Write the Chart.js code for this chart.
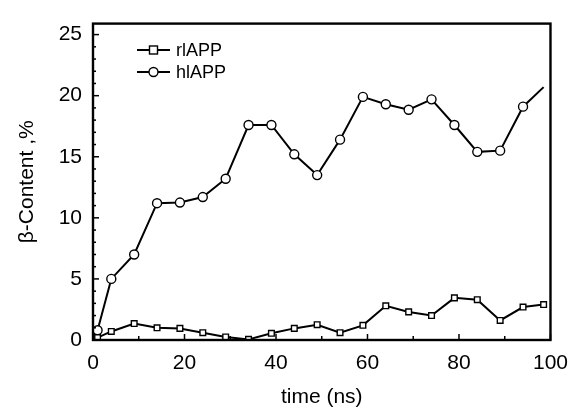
<!DOCTYPE html>
<html>
<head>
<meta charset="utf-8">
<script src="https://cdn.jsdelivr.net/npm/chart.js@4"></script>
<style>
  html, body { margin: 0; padding: 0; background: #fff; }
  #wrap { width: 579px; height: 408px; }
</style>
</head>
<body>
<div id="wrap"><canvas id="chart" width="579" height="408"></canvas></div>
<script>
// Data
const time = [1, 4, 9, 14, 19, 24, 29, 34, 39, 44, 49, 54, 59, 64, 69, 74, 79, 84, 89, 94, 98.5];
const rlAPP = [0.2, 0.7, 1.35, 1.0, 0.95, 0.6, 0.25, 0.05, 0.55, 0.95, 1.25, 0.6, 1.2, 2.8, 2.3, 2.0, 3.45, 3.3, 1.6, 2.7, 2.9];
const hlAPP = [0.8, 5.0, 7.0, 11.2, 11.25, 11.7, 13.2, 17.6, 17.6, 15.2, 13.5, 16.4, 19.9, 19.3, 18.85, 19.7, 17.6, 15.4, 15.5, 19.1, 20.7];
const xTicks = [0, 20, 40, 60, 80, 100];
const yTicks = [0, 5, 10, 15, 20, 25];

const font = 'Liberation Sans, Arial, sans-serif';

// Frame, inward ticks and the in-plot legend
const decor = {
    id: 'decor',
    afterDraw(chart) {
        const c = chart.ctx;
        const a = chart.chartArea;
        const xs = chart.scales.x, ys = chart.scales.y;
        c.save();
        c.strokeStyle = '#000';
        c.lineWidth = 1.5;
        for (let v = 0; v <= 100; v += 10) {
            const px = xs.getPixelForValue(v);
            const len = v % 20 === 0 ? 6 : 4;
            c.beginPath(); c.moveTo(px, a.bottom); c.lineTo(px, a.bottom - len); c.stroke();
        }
        for (let v = 0; v <= 25; v += 1) {
            const py = ys.getPixelForValue(v);
            const len = v % 5 === 0 ? 6 : 3;
            c.beginPath(); c.moveTo(a.left, py); c.lineTo(a.left + len, py); c.stroke();
        }
        c.lineWidth = 2.4;
        c.strokeRect(a.left, a.top, a.right - a.left, a.bottom - a.top);

        // legend
        chart.data.datasets.forEach((ds, i) => {
            const y = 50 + i * 22;
            const x0 = 137, x1 = 170;
            c.lineWidth = 2;
            c.beginPath(); c.moveTo(x0, y); c.lineTo(x1, y); c.stroke();
            c.fillStyle = '#fff';
            c.lineWidth = 1.4;
            const mx = (x0 + x1) / 2;
            if (ds.pointStyle === 'rect') {
                c.fillRect(mx - 4, y - 4, 8, 8);
                c.strokeRect(mx - 4, y - 4, 8, 8);
            } else {
                c.beginPath(); c.arc(mx, y, 4.5, 0, Math.PI * 2); c.fill(); c.stroke();
            }
            c.fillStyle = '#000';
            c.font = '18px ' + font;
            c.textBaseline = 'middle';
            c.fillText(ds.label, 176, y + 1);
        });
        c.restore();
    }
};

new Chart(document.getElementById('chart'), {
    type: 'line',
    data: {
        datasets: [
            {
                label: 'rlAPP',
                data: time.map((t, i) => ({ x: t, y: rlAPP[i] })),
                borderColor: '#000',
                borderWidth: 2,
                pointStyle: 'rect',
                pointRadius: 4,
                pointBorderWidth: 1.4,
                pointBackgroundColor: '#fff',
                pointBorderColor: '#000',
                tension: 0
            },
            {
                label: 'hlAPP',
                data: time.map((t, i) => ({ x: t, y: hlAPP[i] })),
                borderColor: '#000',
                borderWidth: 2,
                pointStyle: 'circle',
                pointRadius: time.map((t, i) => i === time.length - 1 ? 0 : 4.5),
                pointBorderWidth: 1.4,
                pointBackgroundColor: '#fff',
                pointBorderColor: '#000',
                tension: 0
            }
        ]
    },
    options: {
        responsive: false,
        animation: false,
        layout: { padding: { top: 15, right: 24, left: 0, bottom: 0 } },
        plugins: { legend: { display: false }, tooltip: { enabled: false } },
        scales: {
            x: {
                type: 'linear',
                min: 0,
                max: 100,
                afterBuildTicks: s => { s.ticks = xTicks.map(v => ({ value: v })); },
                afterFit: s => { s.height = 68; },
                grid: { display: false, drawTicks: false },
                border: { display: false },
                ticks: { color: '#000', font: { family: font, size: 21 }, padding: 11, maxRotation: 0 },
                title: { display: true, text: 'time (ns)', color: '#000', font: { family: font, size: 21 }, padding: { top: 0, bottom: -2 } }
            },
            y: {
                min: 0,
                max: 25.9,
                afterBuildTicks: s => { s.ticks = yTicks.map(v => ({ value: v })); },
                afterFit: s => { s.width = 93; },
                grid: { display: false, drawTicks: false },
                border: { display: false },
                ticks: { color: '#000', font: { family: font, size: 21 }, padding: 11 },
                title: { display: true, text: 'β-Content ,%', color: '#000', font: { family: font, size: 21 }, padding: { top: 15, bottom: 0 } }
            }
        }
    },
    plugins: [decor]
});
</script>
</body>
</html>
